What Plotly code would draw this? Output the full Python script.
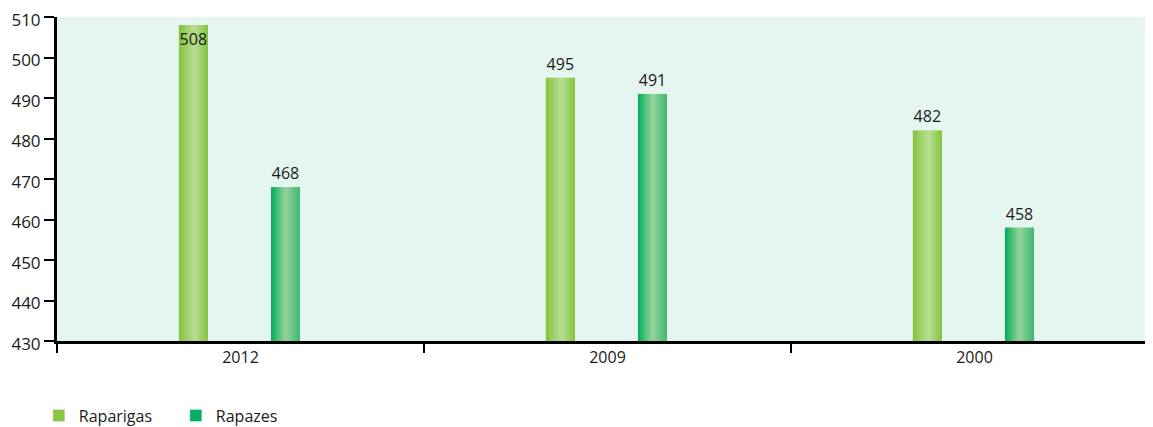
import plotly.graph_objects as go

categories = ["2012", "2009", "2000"]
raparigas = [508, 495, 482]
rapazes = [468, 491, 458]
series_names = ["Raparigas", "Rapazes"]

def lerp(c1, c2, t):
    return "rgb(%d,%d,%d)" % tuple(round(a + (b - a) * t) for a, b in zip(c1, c2))

def grad(stops, t):
    for i in range(len(stops) - 1):
        t0, c0 = stops[i]
        t1, c1 = stops[i + 1]
        if t0 <= t <= t1:
            return lerp(c0, c1, (t - t0) / (t1 - t0) if t1 > t0 else 0)
    return lerp(stops[-1][1], stops[-1][1], 0)

grad_rap = [(0.0, (134, 195, 60)), (0.55, (184, 221, 148)), (1.0, (134, 195, 60))]
grad_boy = [(0.0, (0, 174, 92)), (0.5, (150, 211, 156)), (1.0, (64, 184, 114))]

W = 0.079
offsets = [-0.168, 0.083]
K = 16
FONT = "Open Sans, Lato, sans-serif"
fig = go.Figure()

for vals, off, stops, name, leg_color in [
    (raparigas, offsets[0], grad_rap, series_names[0], "#8cc63f"),
    (rapazes, offsets[1], grad_boy, series_names[1], "#00b060"),
]:
    sw = W / K
    for j in range(K):
        t = (j + 0.5) / K
        width = sw * 1.35 if j < K - 1 else sw
        fig.add_trace(go.Bar(
            x=categories, y=[v - 430 for v in vals], base=430,
            width=width, offset=off + j * sw,
            marker=dict(color=grad(stops, t), line=dict(width=0)),
            showlegend=False, hoverinfo="skip",
        ))
    fig.add_trace(go.Bar(
        x=[None], y=[None], name=name,
        marker=dict(color=leg_color), showlegend=True,
    ))

for vals, off in [(raparigas, offsets[0]), (rapazes, offsets[1])]:
    fig.add_trace(go.Bar(
        x=categories, y=[v - 430 for v in vals], base=430,
        width=W, offset=off,
        marker=dict(color="rgba(0,0,0,0)", line=dict(width=0)),
        text=[str(v) for v in vals],
        textposition=["inside" if v >= 505 else "outside" for v in vals],
        insidetextanchor="end",
        textangle=0,
        constraintext="none",
        textfont=dict(family=FONT, size=16, color="#1a1a1a"),
        insidetextfont=dict(family=FONT, size=16, color="#1a1a1a"),
        outsidetextfont=dict(family=FONT, size=16, color="#1a1a1a"),
        cliponaxis=False,
        showlegend=False, hoverinfo="skip",
    ))

fig.update_layout(
    width=1153, height=427,
    barmode="overlay",
    margin=dict(l=49, r=3, t=9, b=94, autoexpand=False),
    paper_bgcolor="white",
    plot_bgcolor="#e5f5ef",
    font=dict(family=FONT, size=16, color="#1a1a1a"),
    showlegend=True,
    legend=dict(orientation="h", x=-0.0165, xanchor="left", y=-0.178, yanchor="top",
                font=dict(family=FONT, size=16), traceorder="normal", itemwidth=30,
                entrywidth=92, entrywidthmode="pixels"),
    xaxis=dict(
        type="category", range=[-0.5, 2.5], automargin=False,
        showline=True, linecolor="black", linewidth=3,
        ticks="outside", tickson="boundaries", ticklen=9, tickwidth=2, tickcolor="black",
        showgrid=False, zeroline=False,
        tickfont=dict(family=FONT, size=16),
    ),
    yaxis=dict(
        range=[430, 510], dtick=10, automargin=False,
        showline=True, linecolor="black", linewidth=3,
        ticks="outside", ticklen=10, tickwidth=2, tickcolor="black",
        showgrid=False, zeroline=False, ticklabeloverflow="allow",
        ticklabelshift=3,
        tickfont=dict(family=FONT, size=17),
    ),
)

fig.write_html("out.html")
